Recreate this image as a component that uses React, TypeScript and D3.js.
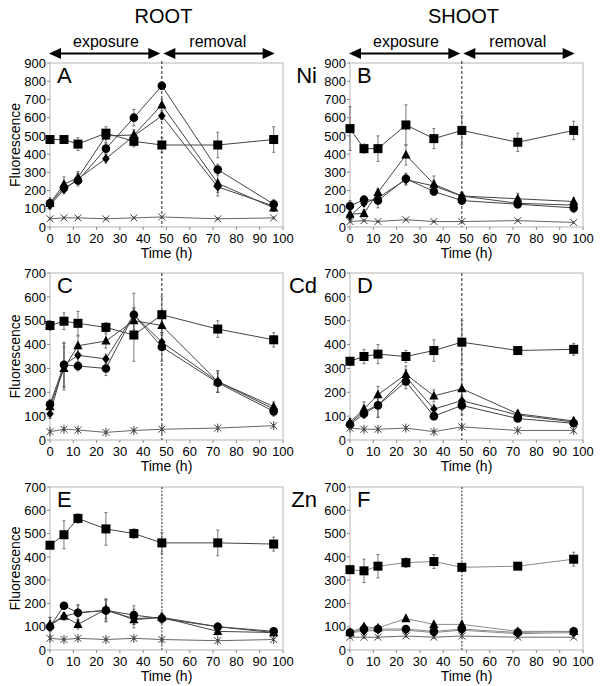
import React from "react";
import * as d3 from "d3";

// ---------- DATA ----------
const TIMES = [0, 6, 12, 24, 36, 48, 72, 96];
const X_TICKS = [0, 10, 20, 30, 40, 50, 60, 70, 80, 90, 100];
const Y_TICKS_NI = [0, 100, 200, 300, 400, 500, 600, 700, 800, 900];
const Y_TICKS_CD_ZN = [0, 100, 200, 300, 400, 500, 600, 700];
const COLUMN_TITLES = ["ROOT", "SHOOT"];
const PHASES = ["exposure", "removal"];
const METALS = ["Ni", "Cd", "Zn"];
const PANEL_LETTERS = ["A", "B", "C", "D", "E", "F"];
const X_LABEL = "Time (h)";
const Y_LABEL = "Fluorescence";

// Panel A (root, Ni)
const A_SQUARE = [480, 480, 455, 515, 470, 450, 450, 480];
const A_SQUARE_ERR = [20, 15, 35, 35, 30, 40, 70, 70];
const A_CIRCLE = [130, 215, 255, 430, 600, 775, 315, 125];
const A_CIRCLE_ERR = [20, 20, 30, 30, 45, 20, 30, 25];
const A_TRIANGLE = [130, 235, 270, 500, 505, 670, 240, 105];
const A_TRIANGLE_ERR = [30, 40, 35, 35, 30, 30, 70, 20];
const A_DIAMOND = [120, 205, 265, 375, 500, 610, 220, 115];
const A_DIAMOND_ERR = [20, 20, 30, 25, 25, 20, 30, 20];
const A_CROSS = [45, 50, 50, 45, 50, 55, 45, 50];
const A_CROSS_ERR = [5, 5, 5, 5, 5, 5, 5, 5];

// Panel B (shoot, Ni)
const B_SQUARE = [540, 430, 430, 560, 485, 530, 465, 530];
const B_SQUARE_ERR = [120, 25, 70, 110, 55, 80, 50, 50];
const B_CIRCLE = [115, 150, 145, 265, 195, 145, 125, 105];
const B_CIRCLE_ERR = [30, 15, 40, 30, 20, 20, 20, 25];
const B_TRIANGLE = [70, 75, 190, 395, 235, 170, 155, 140];
const B_TRIANGLE_ERR = [20, 20, 20, 55, 45, 20, 30, 20];
const B_DIAMOND = [60, 130, 160, 260, 225, 170, 130, 120];
const B_DIAMOND_ERR = [20, 15, 20, 30, 30, 20, 25, 20];
const B_CROSS = [30, 35, 30, 40, 30, 30, 35, 25];
const B_CROSS_ERR = [5, 5, 5, 5, 5, 5, 5, 5];

// Panel C (root, Cd)
const C_SQUARE = [480, 498, 489, 472, 440, 525, 465, 420];
const C_SQUARE_ERR = [20, 35, 50, 20, 110, 75, 35, 30];
const C_CIRCLE = [150, 315, 310, 300, 525, 390, 240, 120];
const C_CIRCLE_ERR = [20, 95, 20, 30, 90, 60, 40, 20];
const C_TRIANGLE = [140, 300, 395, 415, 500, 480, 245, 140];
const C_TRIANGLE_ERR = [20, 90, 40, 30, 40, 30, 45, 20];
const C_DIAMOND = [110, 315, 355, 340, 525, 410, 245, 130];
const C_DIAMOND_ERR = [20, 90, 30, 20, 30, 30, 45, 20];
const C_CROSS = [35, 45, 42, 32, 40, 45, 50, 60];
const C_CROSS_ERR = [5, 5, 5, 5, 5, 5, 5, 5];

// Panel D (shoot, Cd)
const D_SQUARE = [330, 350, 360, 350, 375, 410, 375, 380];
const D_SQUARE_ERR = [15, 30, 40, 25, 45, 90, 15, 25];
const D_CIRCLE = [65, 110, 145, 245, 100, 145, 90, 70];
const D_CIRCLE_ERR = [10, 20, 50, 30, 15, 40, 10, 10];
const D_TRIANGLE = [75, 130, 190, 275, 185, 215, 110, 80];
const D_TRIANGLE_ERR = [15, 30, 35, 35, 25, 80, 15, 15];
const D_DIAMOND = [70, 120, 145, 265, 130, 165, 105, 75];
const D_DIAMOND_ERR = [10, 25, 50, 30, 20, 40, 10, 10];
const D_CROSS = [50, 45, 45, 50, 35, 55, 40, 40];
const D_CROSS_ERR = [5, 5, 5, 5, 5, 5, 5, 5];

// Panel E (root, Zn)
const E_SQUARE = [450, 495, 565, 520, 500, 460, 460, 455];
const E_SQUARE_ERR = [15, 60, 20, 70, 20, 45, 55, 30];
const E_CIRCLE = [100, 190, 160, 170, 150, 135, 100, 80];
const E_CIRCLE_ERR = [40, 10, 35, 50, 40, 20, 15, 10];
const E_TRIANGLE = [110, 145, 110, 175, 130, 140, 80, 75];
const E_TRIANGLE_ERR = [30, 15, 20, 40, 20, 15, 15, 10];
const E_DIAMOND = [105, 145, 160, 170, 135, 140, 100, 75];
const E_DIAMOND_ERR = [20, 15, 30, 45, 40, 20, 15, 10];
const E_CROSS = [50, 45, 50, 45, 50, 45, 40, 45];
const E_CROSS_ERR = [5, 5, 5, 5, 5, 5, 5, 5];

// Panel F (shoot, Zn)
const F_SQUARE = [345, 340, 360, 375, 380, 355, 360, 390];
const F_SQUARE_ERR = [15, 50, 50, 20, 30, 15, 10, 30];
const F_CIRCLE = [75, 90, 90, 90, 80, 90, 75, 80];
const F_CIRCLE_ERR = [10, 10, 10, 10, 10, 10, 10, 10];
const F_TRIANGLE = [75, 100, 95, 135, 110, 110, 80, 80];
const F_TRIANGLE_ERR = [10, 10, 10, 10, 10, 10, 10, 10];
const F_DIAMOND = [75, 80, 85, 85, 75, 85, 70, 75];
const F_DIAMOND_ERR = [10, 10, 10, 10, 10, 10, 10, 10];
const F_CROSS = [55, 55, 55, 60, 55, 60, 55, 55];
const F_CROSS_ERR = [5, 5, 5, 5, 5, 5, 5, 5];

type Shape = "square" | "circle" | "triangle" | "diamond" | "cross" | "asterisk";
type Series = { shape: Shape; values: number[]; err: number[] };

const mk = (
  cross: number[], crossErr: number[], crossShape: Shape,
  diamond: number[], diamondErr: number[],
  triangle: number[], triangleErr: number[],
  circle: number[], circleErr: number[],
  square: number[], squareErr: number[]
): Series[] => [
  { shape: crossShape, values: cross, err: crossErr },
  { shape: "diamond", values: diamond, err: diamondErr },
  { shape: "triangle", values: triangle, err: triangleErr },
  { shape: "circle", values: circle, err: circleErr },
  { shape: "square", values: square, err: squareErr },
];

const PANEL_SERIES: Series[][] = [
  mk(A_CROSS, A_CROSS_ERR, "cross", A_DIAMOND, A_DIAMOND_ERR, A_TRIANGLE, A_TRIANGLE_ERR, A_CIRCLE, A_CIRCLE_ERR, A_SQUARE, A_SQUARE_ERR),
  mk(B_CROSS, B_CROSS_ERR, "cross", B_DIAMOND, B_DIAMOND_ERR, B_TRIANGLE, B_TRIANGLE_ERR, B_CIRCLE, B_CIRCLE_ERR, B_SQUARE, B_SQUARE_ERR),
  mk(C_CROSS, C_CROSS_ERR, "asterisk", C_DIAMOND, C_DIAMOND_ERR, C_TRIANGLE, C_TRIANGLE_ERR, C_CIRCLE, C_CIRCLE_ERR, C_SQUARE, C_SQUARE_ERR),
  mk(D_CROSS, D_CROSS_ERR, "asterisk", D_DIAMOND, D_DIAMOND_ERR, D_TRIANGLE, D_TRIANGLE_ERR, D_CIRCLE, D_CIRCLE_ERR, D_SQUARE, D_SQUARE_ERR),
  mk(E_CROSS, E_CROSS_ERR, "asterisk", E_DIAMOND, E_DIAMOND_ERR, E_TRIANGLE, E_TRIANGLE_ERR, E_CIRCLE, E_CIRCLE_ERR, E_SQUARE, E_SQUARE_ERR),
  mk(F_CROSS, F_CROSS_ERR, "cross", F_DIAMOND, F_DIAMOND_ERR, F_TRIANGLE, F_TRIANGLE_ERR, F_CIRCLE, F_CIRCLE_ERR, F_SQUARE, F_SQUARE_ERR),
];

// ---------- LAYOUT ----------
const W = 600;
const H = 686;
const FONT = "'Liberation Sans', Arial, Helvetica, sans-serif";
const COLS = [
  { left: 50, right: 283 },
  { left: 350, right: 583 },
];
const ROWS = [
  { top: 63, bottom: 227, ticks: Y_TICKS_NI },
  { top: 273, bottom: 440, ticks: Y_TICKS_CD_ZN },
  { top: 487, bottom: 650, ticks: Y_TICKS_CD_ZN },
];

function Marker({ shape, x, y }: { shape: Shape; x: number; y: number }) {
  switch (shape) {
    case "square":
      return <rect x={x - 4.5} y={y - 4.5} width={9} height={9} fill="#000" />;
    case "circle":
      return <circle cx={x} cy={y} r={4.3} fill="#000" />;
    case "triangle":
      return <path d={`M${x},${y - 5.2}L${x + 4.6},${y + 3.6}L${x - 4.6},${y + 3.6}Z`} fill="#000" />;
    case "diamond":
      return <path d={`M${x},${y - 4.6}L${x + 3.8},${y}L${x},${y + 4.6}L${x - 3.8},${y}Z`} fill="#000" />;
    case "cross":
      return (
        <path
          d={`M${x - 3.5},${y - 3.5}L${x + 3.5},${y + 3.5}M${x - 3.5},${y + 3.5}L${x + 3.5},${y - 3.5}`}
          stroke="#444"
          strokeWidth={1}
          fill="none"
        />
      );
    case "asterisk":
      return (
        <path
          d={`M${x - 3.5},${y - 3.5}L${x + 3.5},${y + 3.5}M${x - 3.5},${y + 3.5}L${x + 3.5},${y - 3.5}M${x},${y - 4.5}L${x},${y + 4.5}`}
          stroke="#444"
          strokeWidth={1}
          fill="none"
        />
      );
  }
  return null;
}

function Panel({ idx }: { idx: number }) {
  const col = COLS[idx % 2];
  const row = ROWS[Math.floor(idx / 2)];
  const rowIdx = Math.floor(idx / 2);
  const ymax = row.ticks[row.ticks.length - 1];
  const x = d3.scaleLinear().domain([0, 100]).range([col.left, col.right]);
  const y = d3.scaleLinear().domain([0, ymax]).range([row.bottom, row.top]);
  const series = PANEL_SERIES[idx];
  const isZn = rowIdx === 2;
  const lineColor = idx === 5 ? "#8a8a8a" : "#444";
  const line = d3
    .line<number>()
    .x((_, i) => x(TIMES[i]))
    .y((d) => y(d));
  const frame = "#b5b5b5";
  return (
    <g>
      {/* frame */}
      <rect
        x={col.left}
        y={row.top}
        width={col.right - col.left}
        height={row.bottom - row.top}
        fill="none"
        stroke={frame}
        strokeWidth={1}
      />
      {/* y ticks */}
      {row.ticks.map((t) => (
        <g key={"y" + t}>
          <line x1={col.left - 3} x2={col.left} y1={y(t)} y2={y(t)} stroke="#888" />
          <text
            x={col.left - 4}
            y={y(t)}
            dy="0.36em"
            textAnchor="end"
            fontSize={13}
            fontFamily={FONT}
            fill="#000"
          >
            {t}
          </text>
        </g>
      ))}
      {/* x ticks */}
      {X_TICKS.map((t) => (
        <g key={"x" + t}>
          <line x1={x(t)} x2={x(t)} y1={row.bottom} y2={row.bottom + 3} stroke="#888" />
          <text
            x={x(t)}
            y={row.bottom + 15.5}
            textAnchor="middle"
            fontSize={13}
            fontFamily={FONT}
            fill="#000"
          >
            {t}
          </text>
        </g>
      ))}
      <text
        x={(col.left + col.right) / 2}
        y={row.bottom + 31}
        textAnchor="middle"
        fontSize={14}
        fontFamily={FONT}
      >
        {X_LABEL}
      </text>
      {idx % 2 === 0 && (
        <text
          transform={`translate(15,${(row.top + row.bottom) / 2}) rotate(-90)`}
          textAnchor="middle"
          dominantBaseline="central"
          fontSize={14}
          fontFamily={FONT}
        >
          {Y_LABEL}
        </text>
      )}
      {/* dashed removal line */}
      <line
        x1={x(48)}
        x2={x(48)}
        y1={row.top - (rowIdx === 0 ? 2 : 0)}
        y2={row.bottom}
        stroke={isZn ? "#777" : "#222"}
        strokeWidth={isZn ? 1.6 : 1}
        strokeDasharray={isZn ? "2,1.5" : "3,2"}
      />
      {/* series lines */}
      {series.map((s, si) => (
        <path
          key={"l" + si}
          d={line(s.values) || ""}
          fill="none"
          stroke={s.shape === "cross" || s.shape === "asterisk" ? "#666" : lineColor}
          strokeWidth={1}
        />
      ))}
      {/* error bars */}
      {series.map((s, si) =>
        s.values.map((v, i) => {
          const cx = x(TIMES[i]);
          const y1 = y(v + s.err[i]);
          const y2 = y(Math.max(0, v - s.err[i]));
          return (
            <g key={"e" + si + "_" + i} stroke="#555" strokeWidth={0.8}>
              <line x1={cx} x2={cx} y1={y1} y2={y2} />
              <line x1={cx - 1.5} x2={cx + 1.5} y1={y1} y2={y1} />
              <line x1={cx - 1.5} x2={cx + 1.5} y1={y2} y2={y2} />
            </g>
          );
        })
      )}
      {/* markers */}
      {series.map((s, si) =>
        s.values.map((v, i) => (
          <Marker key={"m" + si + "_" + i} shape={s.shape} x={x(TIMES[i])} y={y(v)} />
        ))
      )}
      {/* panel letter */}
      <text x={col.left + 7} y={row.top + 20} fontSize={22} fontFamily={FONT}>
        {PANEL_LETTERS[idx]}
      </text>
      {idx % 2 === 1 && (
        <text x={317} y={row.top + 20} textAnchor="end" fontSize={22} fontFamily={FONT}>
          {METALS[rowIdx]}
        </text>
      )}
    </g>
  );
}

function Arrow({ x1, x2, y }: { x1: number; x2: number; y: number }) {
  const hl = 12;
  const hw = 5.5;
  return (
    <g>
      <line x1={x1 + hl - 1} x2={x2 - hl + 1} y1={y} y2={y} stroke="#000" strokeWidth={2} />
      <path d={`M${x1},${y}L${x1 + hl},${y - hw}L${x1 + hl},${y + hw}Z`} fill="#000" />
      <path d={`M${x2},${y}L${x2 - hl},${y - hw}L${x2 - hl},${y + hw}Z`} fill="#000" />
    </g>
  );
}

function Header({ c }: { c: number }) {
  const col = COLS[c];
  const x = d3.scaleLinear().domain([0, 100]).range([col.left, col.right]);
  const ay = 53.5;
  return (
    <g>
      <text
        x={(x(0) + x(100)) / 2 - 3}
        y={23}
        textAnchor="middle"
        fontSize={20}
        fontFamily={FONT}
      >
        {COLUMN_TITLES[c]}
      </text>
      <text x={(x(0) + x(48)) / 2} y={47} textAnchor="middle" fontSize={16} fontFamily={FONT}>
        {PHASES[0]}
      </text>
      <text x={(x(48) + x(96)) / 2} y={47} textAnchor="middle" fontSize={16} fontFamily={FONT}>
        {PHASES[1]}
      </text>
      <Arrow x1={x(0) - 1} x2={x(48) - 1.5} y={ay} />
      <Arrow x1={x(48) + 1.5} x2={x(96) + 1} y={ay} />
    </g>
  );
}

export default function App() {
  return (
    <div style={{ position: "absolute", left: 0, top: 0, width: W, height: H }}>
      <svg width={W} height={H} viewBox={`0 0 ${W} ${H}`} style={{ display: "block", background: "#fff" }}>
        <rect width={W} height={H} fill="#fff" />
        <Header c={0} />
        <Header c={1} />
        {[0, 1, 2, 3, 4, 5].map((i) => (
          <Panel key={i} idx={i} />
        ))}
      </svg>
    </div>
  );
}
